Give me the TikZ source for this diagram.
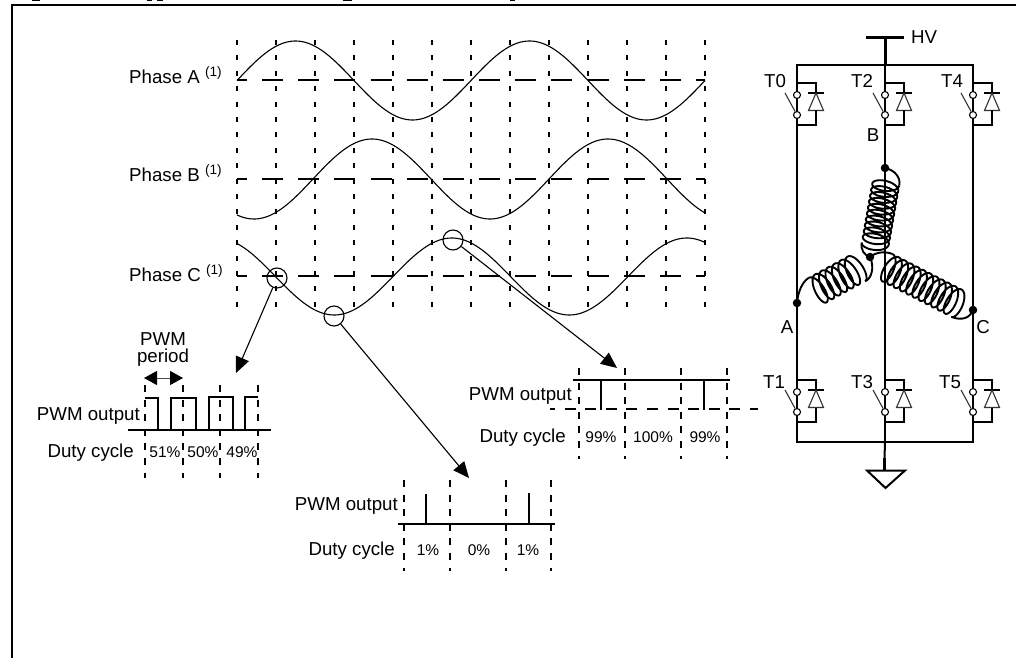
\documentclass[tikz,border=0pt]{standalone}
\usepackage{fontspec}
\setmainfont{Liberation Sans}
\usetikzlibrary{arrows.meta}
\newcommand{\mycoil}[6]{% x0,y0,x1,y1,turns,r
  \pgfmathsetmacro{\cdx}{#3-#1}\pgfmathsetmacro{\cdy}{#4-#2}
  \pgfmathsetmacro{\clen}{sqrt(\cdx*\cdx+\cdy*\cdy)}
  \pgfmathsetmacro{\cux}{\cdx/\clen}\pgfmathsetmacro{\cuy}{\cdy/\clen}
  \pgfmathsetmacro{\cend}{270+360*#5}
  \draw[coilline] plot[variable=\t,domain=270:\cend,samples=420,smooth]
   ({#1+\cux*((\t-270)/(\cend-270)*\clen+6.5*cos(\t))-\cuy*#6*sin(\t)},
    {#2+\cuy*((\t-270)/(\cend-270)*\clen+6.5*cos(\t))+\cux*#6*sin(\t)});
}
\tikzset{
  label18/.style={inner sep=0pt,anchor=base,font=\fontsize{18.7}{20}\selectfont},
  pct/.style={inner sep=0pt,anchor=base,font=\fontsize{15.5}{17}\selectfont},
  wire/.style={line width=2pt,line join=miter},
  thinline/.style={line width=1.1pt,black!80},
  coilline/.style={line width=1.9pt,line join=round},
  griddash/.style={line width=2pt,dash pattern=on 5pt off 10.4pt},
  blockdash/.style={line width=2pt,dash pattern=on 7pt off 7.6pt},
  hdash/.style={line width=2pt,dash pattern=on 21pt off 15.15pt,dash phase=11pt},
  wave/.style={line width=1.1pt},
  pulse/.style={line width=2pt,line join=miter},
  baseline line/.style={line width=1.7pt},
  ringmark/.style={circle,draw,line width=1.1pt,minimum size=20pt,inner sep=0pt},
  callout/.style={line width=1.1pt,-{Triangle[length=16pt,width=14pt]}},
  swdot/.style={circle,draw,fill=white,line width=1.1pt,minimum size=7pt,inner sep=0pt},
  junction/.style={circle,fill=black,minimum size=8.5pt,inner sep=0pt},
  switchcell/.pic={
    \draw[wire] (0,0) -- (19,0) -- (19,10);
    \draw[wire] (11,10) -- (27,10);
    \draw[thinline] (19,10) -- (11.5,27.5) -- (26.5,27.5) -- cycle;
    \draw[wire] (19,27.5) -- (19,42) -- (0,42);
    \node[swdot] (-a) at (0,12) {};
    \node[swdot] (-b) at (0,32) {};
    \coordinate (-k) at (-12,10);
    \draw[thinline] (-k) -- (-b);
  }
}
\begin{document}
\begin{tikzpicture}[x=1pt,y=-1pt]
\useasboundingbox (0,0) rectangle (1016,658);
% frame and clipped caption remnants
\coordinate (fa) at (12,658); \coordinate (fb) at (12,5); \coordinate (fc) at (1016,5);
\draw[line width=2pt] (fa) -- (fb) -- (fc);
\foreach \a/\b in {32/40,147/152,157/163,343/352,510/515}
  \fill (\a,0) rectangle (\b,1);
% phase grid
\foreach \x in {237,276,...,705}
  \draw[griddash] (\x,40) -- (\x,317);
\foreach \y in {80,179,276}
  \draw[hdash] (237,\y) -- (705,\y);
\draw[wave] plot[domain=237:705,samples=200,smooth] (\x,{80.5-39.5*sin((\x-237)/234*360)});
\draw[wave] plot[domain=237:705,samples=200,smooth] (\x,{179-40*sin((\x-313)/236*360)});
\draw[wave] plot[domain=237:705,samples=200,smooth] (\x,{276.5-38.5*sin((\x-393)/235*360)});
\node[label18,anchor=base west] (pa) at (129,83.5) {Phase A {\fontsize{13.6}{14}\selectfont\raisebox{6.5pt}{(1)}}};
\node[label18,anchor=base west] (pb) at (129,181) {Phase B {\fontsize{13.6}{14}\selectfont\raisebox{6.5pt}{(1)}}};
\node[label18,anchor=base west] (pc) at (129,281) {Phase C {\fontsize{13.6}{14}\selectfont\raisebox{6.5pt}{(1)}}};
% rings and callouts
\node[ringmark] (r1) at (277,278) {};
\node[ringmark] (r2) at (334,316) {};
\node[ringmark] (r3) at (453,240) {};
\coordinate (t1) at (236,373);
\coordinate (t2) at (469,478);
\coordinate (t3) at (617,368);
\draw[callout] (r1) -- (t1);
\draw[callout] (r2) -- (t2);
\draw[callout] (r3) -- (t3);
% block 1
\foreach \x in {145,183,220,258}
  \draw[blockdash] (\x,385) -- (\x,478);
\draw[baseline line] (128,430) -- (271,430);
\draw[pulse] (145,398) -- (158,398) -- (158,430) -- (171,430) -- (171,398) -- (196,398) -- (196,430) -- (209,430) -- (209,397) -- (233,397) -- (233,430) -- (245,430) -- (245,397) -- (258,397);
\coordinate (pl) at (144,378); \coordinate (pr) at (183,378);
\draw[line width=1pt,black!70,{Triangle[length=13pt,width=14pt,black]}-{Triangle[length=13pt,width=14pt,black]}] (pl) -- (pr);
\node[label18] (pw1) at (163,345) {PWM};
\node[label18] (pw2) at (163,362) {period};
\node[label18,anchor=base east] (o1) at (140,420) {PWM output};
\node[label18,anchor=base east] (d1) at (134,457) {Duty cycle};
\node[pct] (p51) at (165,457) {51\%};
\node[pct] (p50) at (203,457) {50\%};
\node[pct] (p49) at (242,457) {49\%};
% block 2
\foreach \x in {404,450,506,551}
  \draw[blockdash] (\x,480) -- (\x,571);
\draw[baseline line] (398,524) -- (555,524);
\draw[pulse] (426,494) -- (426,524);
\draw[pulse] (529,493) -- (529,524);
\node[label18,anchor=base east] (o2) at (398,510) {PWM output};
\node[label18,anchor=base east] (d2) at (395,555) {Duty cycle};
\node[pct] (q1) at (428,555) {1\%};
\node[pct] (q0) at (479,555) {0\%};
\node[pct] (q2) at (528,555) {1\%};
% block 3
\foreach \x in {579,625,681,727}
  \draw[blockdash] (\x,368) -- (\x,459);
\draw[baseline line] (573,380) -- (730,380);
\draw[pulse] (601,380) -- (601,410);
\draw[pulse] (704,380) -- (704,410);
\draw[line width=2pt,dash pattern=on 11pt off 9.6pt,dash phase=6pt] (550,409) -- (758,409);
\node[label18,anchor=base east] (o3) at (572,400) {PWM output};
\node[label18,anchor=base east] (d3) at (566,442) {Duty cycle};
\node[pct] (s1) at (601,442) {99\%};
\node[pct] (s0) at (653,442) {100\%};
\node[pct] (s2) at (705,442) {99\%};
% bridge
\coordinate (hvl) at (866,38); \coordinate (hvr) at (904,38); \coordinate (hvm) at (885,38);
\coordinate (rl) at (797,65); \coordinate (rr) at (973,65); \coordinate (rm) at (885,65);
\coordinate (bl) at (797,442); \coordinate (br) at (973,442); \coordinate (bm) at (885,442);
\coordinate (gt) at (884.5,470);
\draw[line width=3pt] (hvl) -- (hvr);
\draw[line width=3pt] (hvm) -- (rm);
\draw[wire] (rl) -- (rr) -- (br) -- (bl) -- cycle;
\draw[wire] (rm) -- (bm);
\draw[wire] (bm) -- (884.5,458);
\draw[line width=3pt] (884.5,458) -- (gt);
\draw[wire] (867,470.5) -- (905,470.5) -- (885.5,488) -- cycle;
\foreach \n/\x/\y in {cT0/797/83,cT2/885/83,cT4/973/83,cT1/797/380,cT3/885/380,cT5/973/380}
  \pic (\n) at (\x,\y) {switchcell};
\node[label18,anchor=base west] (hv) at (911,44) {HV};
\node[label18] (l0) at (775,88) {T0};
\node[label18] (l2) at (862,88) {T2};
\node[label18] (l4) at (952,88) {T4};
\node[label18] (l1) at (774,388) {T1};
\node[label18] (l3) at (862,388) {T3};
\node[label18] (l5) at (950,388) {T5};
\node[label18] (lb) at (873,141) {B};
\node[label18] (la) at (787,333) {A};
\node[label18] (lc) at (983,333) {C};
% coils
\mycoil{886}{183}{875}{245}{10.5}{13.5}
\mycoil{816}{291}{858}{268}{6.5}{15}
\mycoil{886}{267}{958}{304}{11.5}{14.5}
\node[junction] (nB) at (885,168) {};
\node[junction] (nA) at (797,303) {};
\node[junction] (nC) at (973,310) {};
\node[junction] (nN) at (870,257) {};
\draw[coilline] (nB.center) .. controls (895,170) and (901,178) .. (899.2,185.4);
\draw[coilline] (861.8,242.6) .. controls (860.5,250) and (864,255) .. (nN.center);
\draw[coilline] (nA.center) .. controls (798,292) and (802,282) .. (808.8,277.8);
\draw[coilline] (865.2,281.2) .. controls (871,279) and (875,268) .. (nN.center);
\draw[coilline] (nN.center) .. controls (876,252) and (885,251) .. (892.6,254.1);
\draw[coilline] (951.4,316.9) .. controls (962,321) and (970,318) .. (nC.center);
\end{tikzpicture}
\end{document}
